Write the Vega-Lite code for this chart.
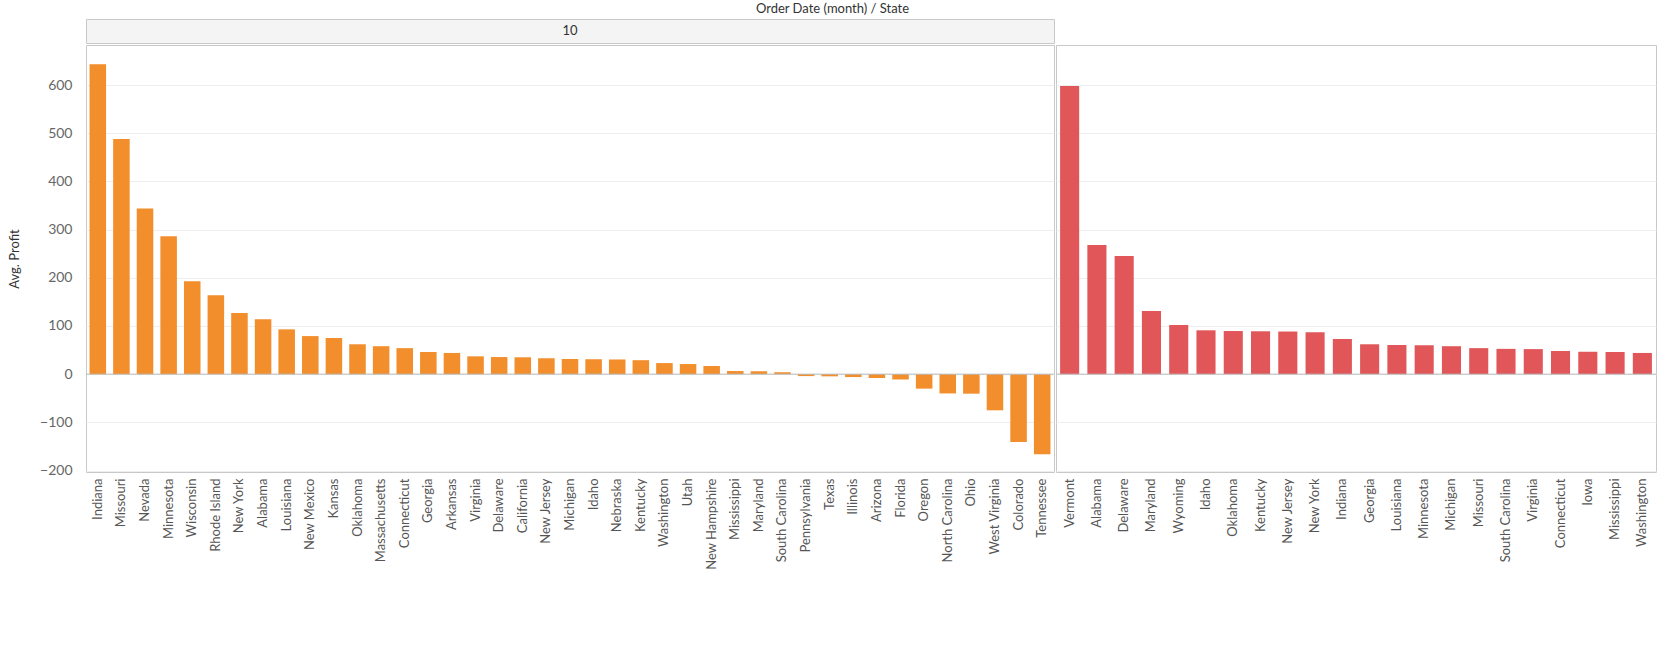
{
  "$schema": "https://vega.github.io/schema/vega-lite/v6.json",
  "padding": {"left": 8, "top": 2, "right": 0, "bottom": 0},
  "autosize": {"type": "pad"},
  "title": {"text": "Order Date (month) / State", "fontSize": 13, "fontWeight": "normal", "font": "Lato", "color": "#333", "anchor": "middle", "offset": 3},
  "datasets": {
    "profit": [
      {"month": "10", "state": "Indiana", "profit": 643},
      {"month": "10", "state": "Missouri", "profit": 488},
      {"month": "10", "state": "Nevada", "profit": 344},
      {"month": "10", "state": "Minnesota", "profit": 286},
      {"month": "10", "state": "Wisconsin", "profit": 193},
      {"month": "10", "state": "Rhode Island", "profit": 164},
      {"month": "10", "state": "New York", "profit": 127},
      {"month": "10", "state": "Alabama", "profit": 114},
      {"month": "10", "state": "Louisiana", "profit": 93},
      {"month": "10", "state": "New Mexico", "profit": 79},
      {"month": "10", "state": "Kansas", "profit": 75},
      {"month": "10", "state": "Oklahoma", "profit": 62},
      {"month": "10", "state": "Massachusetts", "profit": 58},
      {"month": "10", "state": "Connecticut", "profit": 54},
      {"month": "10", "state": "Georgia", "profit": 46},
      {"month": "10", "state": "Arkansas", "profit": 44},
      {"month": "10", "state": "Virginia", "profit": 37},
      {"month": "10", "state": "Delaware", "profit": 35.5},
      {"month": "10", "state": "California", "profit": 35},
      {"month": "10", "state": "New Jersey", "profit": 33},
      {"month": "10", "state": "Michigan", "profit": 31.5},
      {"month": "10", "state": "Idaho", "profit": 31},
      {"month": "10", "state": "Nebraska", "profit": 30.5},
      {"month": "10", "state": "Kentucky", "profit": 29},
      {"month": "10", "state": "Washington", "profit": 23},
      {"month": "10", "state": "Utah", "profit": 21},
      {"month": "10", "state": "New Hampshire", "profit": 17},
      {"month": "10", "state": "Mississippi", "profit": 6.5},
      {"month": "10", "state": "Maryland", "profit": 6},
      {"month": "10", "state": "South Carolina", "profit": 4},
      {"month": "10", "state": "Pennsylvania", "profit": -4},
      {"month": "10", "state": "Texas", "profit": -4.5},
      {"month": "10", "state": "Illinois", "profit": -6},
      {"month": "10", "state": "Arizona", "profit": -8},
      {"month": "10", "state": "Florida", "profit": -11},
      {"month": "10", "state": "Oregon", "profit": -30},
      {"month": "10", "state": "North Carolina", "profit": -40},
      {"month": "10", "state": "Ohio", "profit": -40.5},
      {"month": "10", "state": "West Virginia", "profit": -75},
      {"month": "10", "state": "Colorado", "profit": -141},
      {"month": "10", "state": "Tennessee", "profit": -166},
      {"month": "11", "state": "Vermont", "profit": 598},
      {"month": "11", "state": "Alabama", "profit": 268},
      {"month": "11", "state": "Delaware", "profit": 245},
      {"month": "11", "state": "Maryland", "profit": 131},
      {"month": "11", "state": "Wyoming", "profit": 102},
      {"month": "11", "state": "Idaho", "profit": 91},
      {"month": "11", "state": "Oklahoma", "profit": 89.5},
      {"month": "11", "state": "Kentucky", "profit": 89},
      {"month": "11", "state": "New Jersey", "profit": 88.5},
      {"month": "11", "state": "New York", "profit": 87},
      {"month": "11", "state": "Indiana", "profit": 73},
      {"month": "11", "state": "Georgia", "profit": 62},
      {"month": "11", "state": "Louisiana", "profit": 60.5},
      {"month": "11", "state": "Minnesota", "profit": 60},
      {"month": "11", "state": "Michigan", "profit": 58},
      {"month": "11", "state": "Missouri", "profit": 54},
      {"month": "11", "state": "South Carolina", "profit": 52.5},
      {"month": "11", "state": "Virginia", "profit": 52},
      {"month": "11", "state": "Connecticut", "profit": 48},
      {"month": "11", "state": "Iowa", "profit": 46.5},
      {"month": "11", "state": "Mississippi", "profit": 46},
      {"month": "11", "state": "Washington", "profit": 44}
    ]
  },
  "spacing": 0,
  "vconcat": [
    {
      "hconcat": [
        {
          "width": 968,
          "height": 24,
          "data": {"values": [{"m": "10"}]},
          "mark": {"type": "text", "fontSize": 13, "font": "Lato", "color": "#333"},
          "encoding": {"text": {"field": "m"}},
          "view": {"fill": "#f4f4f4", "stroke": "#c8c8c8"}
        }
      ],
      "spacing": 0
    },
    {
      "spacing": 0,
      "hconcat": [
        {
          "width": 968,
          "height": 427,
          "data": {"name": "profit"},
          "transform": [{"filter": "datum.month == '10'"}],
          "view": {"stroke": "#c8c8c8"},
          "layer": [
            {
              "mark": {"type": "bar", "color": "#F28E2B"},
              "encoding": {
                "x": {"field": "state", "type": "nominal", "sort": {"field": "profit", "order": "descending"}, "scale": {"paddingInner": 0.3, "paddingOuter": 0.15},
                  "axis": {"title": null, "labelAngle": -90, "labelFontSize": 13, "labelFont": "Lato", "labelColor": "#555", "ticks": false, "domain": false, "labelPadding": 6}},
                "y": {"field": "profit", "type": "quantitative", "scale": {"domain": [-203, 683], "nice": false},
                  "axis": {"title": "Avg. Profit", "titleFont": "Lato", "titleFontSize": 13, "titleFontWeight": 400, "titleColor": "#333", "values": [-200, -100, 0, 100, 200, 300, 400, 500, 600], "labelFontSize": 14, "labelFont": "Lato", "labelColor": "#666", "gridColor": "#eeeeee", "ticks": false, "domain": false, "labelPadding": 14, "titlePadding": 18}}
              }
            },
            {
              "data": {"values": [{"z": 0}]},
              "mark": {"type": "rule", "color": "#bbbbbb"},
              "encoding": {"y": {"field": "z", "type": "quantitative"}}
            }
          ]
        },
        {
          "width": 600,
          "height": 427,
          "data": {"name": "profit"},
          "transform": [{"filter": "datum.month == '11'"}],
          "view": {"stroke": "#c8c8c8"},
          "layer": [
            {
              "mark": {"type": "bar", "color": "#E15759"},
              "encoding": {
                "x": {"field": "state", "type": "nominal", "sort": {"field": "profit", "order": "descending"}, "scale": {"paddingInner": 0.3, "paddingOuter": 0.15},
                  "axis": {"title": null, "labelAngle": -90, "labelFontSize": 13, "labelFont": "Lato", "labelColor": "#555", "ticks": false, "domain": false, "labelPadding": 6}},
                "y": {"field": "profit", "type": "quantitative", "scale": {"domain": [-203, 683], "nice": false},
                  "axis": {"title": null, "labels": false, "values": [-200, -100, 0, 100, 200, 300, 400, 500, 600], "gridColor": "#eeeeee", "ticks": false, "domain": false}}
              }
            },
            {
              "data": {"values": [{"z": 0}]},
              "mark": {"type": "rule", "color": "#bbbbbb"},
              "encoding": {"y": {"field": "z", "type": "quantitative"}}
            }
          ]
        }
      ]
    }
  ],
  "config": {"background": "white", "view": {"stroke": "#c8c8c8"}}
}
